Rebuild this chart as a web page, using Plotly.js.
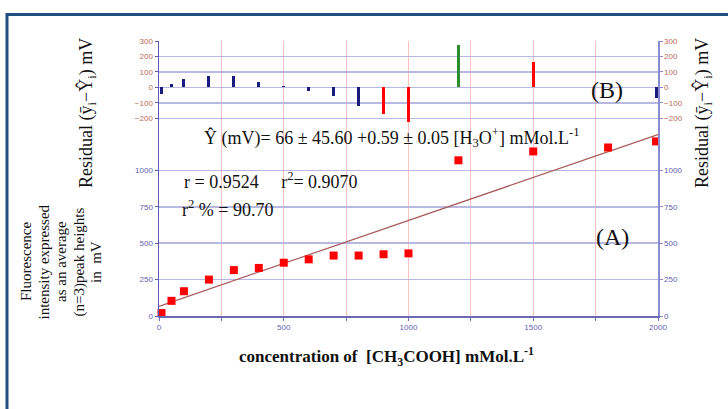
<!DOCTYPE html>
<html>
<head>
<meta charset="utf-8">
<script src="https://cdn.plot.ly/plotly-3.0.1.min.js"></script>
<style>html,body{margin:0;padding:0;background:#fff;}#chart{width:728px;height:409px;}</style>
</head>
<body>
<div id="chart"></div>
<script>
// ---- data ----
const concentration = [10, 50, 100, 200, 300, 400, 500, 600, 700, 800, 900, 1000, 1200, 1500, 1800, 1992];
const intensity     = [20, 104, 170, 250, 315, 330, 366, 389, 415, 415, 424, 430, 1069, 1130, 1157, 1199];

const residualX     = [10, 50, 100, 200, 300, 400, 500, 600, 700, 800, 900, 1000, 1200, 1500, 1992];
const residualY     = [-45, 24, 52, 72, 76, 37, 12, -22, -58, -120, -174, -222, 272, 163, -68];
const residualColor = ['#1b1b7e','#1b1b7e','#1b1b7e','#1b1b7e','#1b1b7e','#1b1b7e','#1b1b7e','#1b1b7e','#1b1b7e','#1b1b7e',
                       '#ff0000','#ff0000','#2e8b2e','#ff0000','#1b1b7e'];

const fitIntercept = 66, fitSlope = 0.59;
const fitX = [0, 2000];
const fitY = fitX.map(x => fitIntercept + fitSlope * x);

const xTickVals  = [0, 500, 1000, 1500, 2000];
const xMinorVals = [250, 750, 1250, 1750];
const yTickVals  = [0, 250, 500, 750, 1000];
const yMinorVals = [1250];
const rTickVals  = [-200, -100, 0, 100, 200, 300];
const rMinorVals = [-300];

const yTitleLines = ['Fluorescence', 'intensity expressed', 'as an average', '(n=3)peak heights', 'in  mV'];

// ---- traces ----
const traces = [
  { x: fitX, y: fitY, type: 'scatter', mode: 'lines', xaxis: 'x', yaxis: 'y',
    line: { color: '#a85a5a', width: 1.2 }, hoverinfo: 'skip' },
  { x: concentration, y: intensity, type: 'scatter', mode: 'markers', xaxis: 'x', yaxis: 'y3',
    marker: { symbol: 'square', size: 8, color: '#ff0000' }, cliponaxis: false },
  { x: residualX, y: residualY, type: 'bar', base: 0, width: 12, xaxis: 'x', yaxis: 'y2',
    marker: { color: residualColor, line: { width: 0 } } },
  // same residuals referenced on the right-hand residual axis (invisible, so that axis is created)
  { x: residualX, y: residualY, type: 'scatter', mode: 'none', xaxis: 'x', yaxis: 'y4', hoverinfo: 'skip' }
];

const tickFontBlue = { family: 'Liberation Sans, Arial, sans-serif', size: 8, color: '#6262b4' };
const tickFontRed  = { family: 'Liberation Sans, Arial, sans-serif', size: 8, color: '#c06a5a' };
const split = 0.662;
const serif = 'Liberation Serif, Times New Roman, serif';
const px = v => (v - 159) / 499;   // pixel -> paper x
const py = v => (316 - v) / 275;   // pixel -> paper y

const layout = {
  width: 728, height: 409,
  margin: { l: 159, r: 70, t: 41, b: 93 },
  paper_bgcolor: '#ffffff', plot_bgcolor: '#ffffff',
  showlegend: false,
  bargap: 0,
  xaxis: {
    range: [0, 2000], tickmode: 'array', tickvals: xTickVals,
    showgrid: true, gridcolor: '#ffc0c0', gridwidth: 1.2,
    minor: { tickmode: 'array', tickvals: xMinorVals, showgrid: true, gridcolor: '#ffc0c0', gridwidth: 1.2,
             ticks: 'outside', ticklen: 3, tickcolor: '#6a6ab8' },
    showline: true, linecolor: '#6a6ab8', linewidth: 1.5,
    ticks: 'outside', ticklen: 3, tickcolor: '#6a6ab8',
    tickfont: tickFontBlue, zeroline: false, anchor: 'y'
  },
  yaxis: {
    domain: [0, split], range: [0, 1250], tickmode: 'array', tickvals: yTickVals,
    showgrid: true, gridcolor: '#b8b8e2', gridwidth: 1.5,
    minor: { tickmode: 'array', tickvals: yMinorVals, showgrid: true, gridcolor: '#b8b8e2', gridwidth: 1.5 },
    showline: true, linecolor: '#5a5ab4', linewidth: 1.5,
    ticks: 'outside', ticklen: 3, tickcolor: '#5a5ab4',
    tickfont: tickFontBlue, zeroline: false, anchor: 'x'
  },
  yaxis2: {
    domain: [split, 1], range: [-300, 300], tickmode: 'array', tickvals: rTickVals,
    showgrid: true, gridcolor: '#b8b8e2', gridwidth: 1.5,
    minor: { tickmode: 'array', tickvals: rMinorVals, showgrid: true, gridcolor: '#b8b8e2', gridwidth: 1.5 },
    showline: true, linecolor: '#5a5ab4', linewidth: 1.5,
    ticks: 'outside', ticklen: 3, tickcolor: '#5a5ab4',
    tickfont: tickFontRed, zeroline: false, anchor: 'x'
  },
  yaxis3: {
    overlaying: 'y', side: 'right', anchor: 'x', range: [0, 1250],
    tickmode: 'array', tickvals: yTickVals, showgrid: false,
    showline: true, linecolor: '#8a8ad0', linewidth: 1.5,
    ticks: 'outside', ticklen: 3, tickcolor: '#8a8ad0',
    tickfont: tickFontBlue, zeroline: false
  },
  yaxis4: {
    overlaying: 'y2', side: 'right', anchor: 'x', range: [-300, 300],
    tickmode: 'array', tickvals: rTickVals, showgrid: false,
    showline: true, linecolor: '#8a8ad0', linewidth: 1.5,
    ticks: 'outside', ticklen: 3, tickcolor: '#8a8ad0',
    tickfont: tickFontRed, zeroline: false
  },
  shapes: [
    { type: 'rect', xref: 'paper', yref: 'paper',
      x0: px(7), x1: 1.3, y0: -0.5, y1: py(14.5),
      line: { color: '#1f4e80', width: 3 }, fillcolor: 'rgba(0,0,0,0)', layer: 'below' }
  ],
  annotations: [
    { text: 'Ŷ (mV)= 66 ± 45.60 +0.59 ± 0.05 [H<sub>3</sub>O<sup>+</sup>] mMol.L<sup>-1</sup>',
      xref: 'paper', yref: 'paper', x: px(391), y: py(137),
      xanchor: 'center', yanchor: 'middle', showarrow: false,
      font: { family: serif, size: 18, color: '#111' } },
    { text: 'r = 0.9524&nbsp;&nbsp;&nbsp;&nbsp;&nbsp;r<sup>2</sup>= 0.9070',
      xref: 'paper', yref: 'paper', x: px(182), y: py(181),
      xanchor: 'left', yanchor: 'middle', showarrow: false,
      font: { family: serif, size: 18, color: '#111' } },
    { text: 'r<sup>2</sup> % = 90.70',
      xref: 'paper', yref: 'paper', x: px(180), y: py(209),
      xanchor: 'left', yanchor: 'middle', showarrow: false,
      font: { family: serif, size: 18, color: '#111' } },
    { text: '(A)', xref: 'paper', yref: 'paper', x: px(612), y: py(237),
      xanchor: 'center', yanchor: 'middle', showarrow: false,
      font: { family: serif, size: 24, color: '#111' } },
    { text: '(B)', xref: 'paper', yref: 'paper', x: px(607), y: py(90),
      xanchor: 'center', yanchor: 'middle', showarrow: false,
      font: { family: serif, size: 24, color: '#111' } },
    { text: '<b>concentration of&nbsp;&nbsp;[CH<sub>3</sub>COOH] mMol.L<sup>-1</sup></b>',
      xref: 'paper', yref: 'paper', x: px(386), y: py(356),
      xanchor: 'center', yanchor: 'middle', showarrow: false,
      font: { family: serif, size: 17, color: '#111' } },
    { text: 'Residual (ȳ<sub>i</sub>−Ŷ<sub>i</sub>) mV', textangle: -90,
      xref: 'paper', yref: 'paper', x: px(87), y: py(113),
      xanchor: 'center', yanchor: 'middle', showarrow: false,
      font: { family: serif, size: 18, color: '#111' } },
    { text: 'Residual (ȳ<sub>i</sub>−Ŷ<sub>i</sub>) mV', textangle: -90,
      xref: 'paper', yref: 'paper', x: px(703), y: py(113),
      xanchor: 'center', yanchor: 'middle', showarrow: false,
      font: { family: serif, size: 18, color: '#111' } }
  ].concat(yTitleLines.map((t, i) => ({
      text: t, textangle: -90,
      xref: 'paper', yref: 'paper', x: px(26 + 17.5 * i), y: py(262),
      xanchor: 'center', yanchor: 'middle', showarrow: false,
      font: { family: serif, size: 15, color: '#111' } })))
};

Plotly.newPlot('chart', traces, layout, { displayModeBar: false, staticPlot: true });
</script>
</body>
</html>
